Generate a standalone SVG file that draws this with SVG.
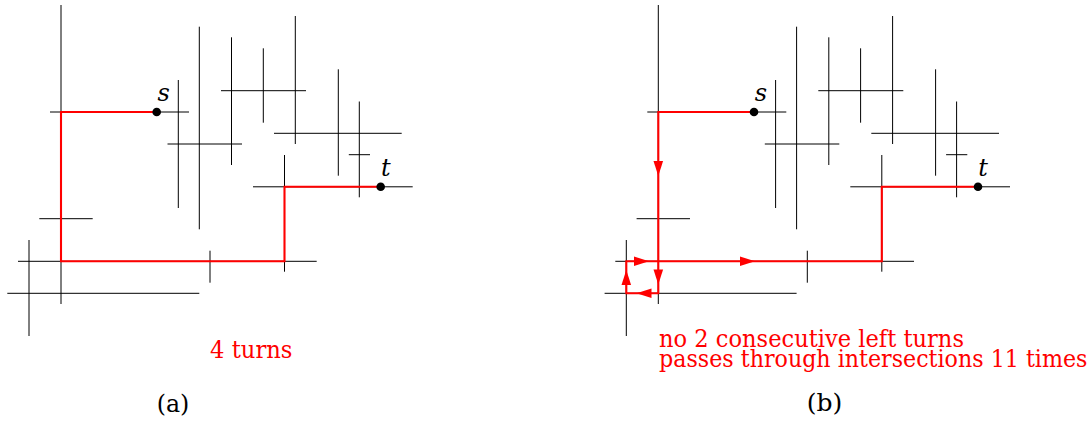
<svg xmlns="http://www.w3.org/2000/svg" xmlns:xlink="http://www.w3.org/1999/xlink" width="1092" height="421" viewBox="0 0 1092 421">
<style>
.seg{stroke:#000;stroke-width:1;fill:none}
.path{stroke:#ff0000;stroke-width:2.1;fill:none;stroke-linejoin:miter}
.dot{fill:#000}
.lbl{font-family:"DejaVu Serif",serif;font-style:italic;font-size:24px;fill:#000}
.note{font-family:"DejaVu Serif",serif;font-size:24.5px;fill:#ff0000}
.cap{font-family:"DejaVu Serif",serif;font-size:24px;fill:#000}
.ah{fill:#ff0000}
</style>
<defs>
<g id="segments">
<line class="seg" x1="61" y1="5" x2="61" y2="304"/>
<line class="seg" x1="50" y1="112" x2="189" y2="112"/>
<line class="seg" x1="178.3" y1="80" x2="178.3" y2="208"/>
<line class="seg" x1="199.3" y1="26.7" x2="199.3" y2="229.3"/>
<line class="seg" x1="231.5" y1="37.3" x2="231.5" y2="165"/>
<line class="seg" x1="263.3" y1="48.3" x2="263.3" y2="122.7"/>
<line class="seg" x1="295.3" y1="16" x2="295.3" y2="144"/>
<line class="seg" x1="221" y1="90.7" x2="306" y2="90.7"/>
<line class="seg" x1="167.5" y1="144" x2="242" y2="144"/>
<line class="seg" x1="274" y1="133.3" x2="401.7" y2="133.3"/>
<line class="seg" x1="338.3" y1="69.3" x2="338.3" y2="175.7"/>
<line class="seg" x1="359.3" y1="101.5" x2="359.3" y2="197.3"/>
<line class="seg" x1="348.8" y1="154.7" x2="370" y2="154.7"/>
<line class="seg" x1="253" y1="186.8" x2="412.7" y2="186.8"/>
<line class="seg" x1="284.5" y1="155" x2="284.5" y2="271.7"/>
<line class="seg" x1="39.3" y1="218.7" x2="92.7" y2="218.7"/>
<line class="seg" x1="29" y1="240" x2="29" y2="336"/>
<line class="seg" x1="18" y1="261.3" x2="316.7" y2="261.3"/>
<line class="seg" x1="7.3" y1="293.3" x2="199.3" y2="293.3"/>
<line class="seg" x1="210" y1="250.7" x2="210" y2="282.7"/>
</g>
<polygon id="arrowhead" class="ah" points="0,0 -15,-4.8 -15,4.8"/>
</defs>

<g id="panel-a">
<use xlink:href="#segments" href="#segments"/>
<g id="route-a">
<path class="path" d="M156.7,112 H61 V261.3 H284.5 V186.8 H380.7"/>
</g>
<g id="node-s-a">
<circle class="dot" cx="156.7" cy="112" r="4.3"/>
<text class="lbl" x="157.5" y="100.5">s</text>
</g>
<g id="node-t-a">
<circle class="dot" cx="380.7" cy="186.8" r="4.3"/>
<text class="lbl" x="381" y="175.7">t</text>
</g>
<text class="note" x="210" y="358.3" textLength="82.5" lengthAdjust="spacingAndGlyphs">4 turns</text>
<text class="cap" x="156.7" y="411.5" textLength="32.6" lengthAdjust="spacingAndGlyphs">(a)</text>
</g>

<g id="panel-b">
<use xlink:href="#segments" href="#segments" transform="translate(597.3,0)"/>
<g id="route-b">
<path class="path" d="M754,112 H658.3 V293.3 H626.3 V261.3 H881.8 V186.8 H978"/>
<use href="#arrowhead" xlink:href="#arrowhead" transform="translate(658.3,176) rotate(90)"/>
<use href="#arrowhead" xlink:href="#arrowhead" transform="translate(658.3,284.5) rotate(90)"/>
<use href="#arrowhead" xlink:href="#arrowhead" transform="translate(636.5,293.3) rotate(180)"/>
<use href="#arrowhead" xlink:href="#arrowhead" transform="translate(626.3,270) rotate(-90)"/>
<use href="#arrowhead" xlink:href="#arrowhead" transform="translate(649,261.3)"/>
<use href="#arrowhead" xlink:href="#arrowhead" transform="translate(755,261.3)"/>
</g>
<g id="node-s-b">
<circle class="dot" cx="754" cy="112" r="4.3"/>
<text class="lbl" x="754.8" y="100.5">s</text>
</g>
<g id="node-t-b">
<circle class="dot" cx="978" cy="186.8" r="4.3"/>
<text class="lbl" x="978.3" y="175.7">t</text>
</g>
<text class="note" x="659" y="346.6" textLength="305" lengthAdjust="spacingAndGlyphs">no 2 consecutive left turns</text>
<text class="note" x="659" y="366.7" textLength="428.5" lengthAdjust="spacingAndGlyphs">passes through intersections 11 times</text>
<text class="cap" x="806.7" y="411" textLength="35.6" lengthAdjust="spacingAndGlyphs">(b)</text>
</g>
</svg>
